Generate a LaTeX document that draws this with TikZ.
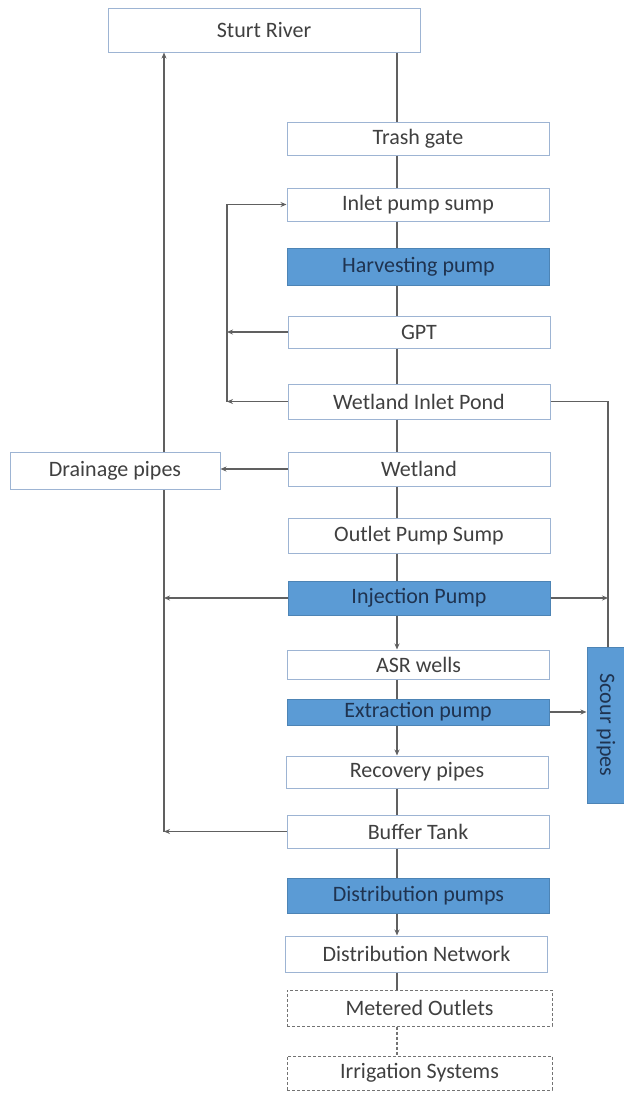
\documentclass[tikz,border=0pt]{standalone}
\usepackage{fontspec}
\setmainfont{Carlito}
\usetikzlibrary{arrows.meta,positioning}
\definecolor{boxline}{HTML}{9DB4D3}
\definecolor{pumpblue}{HTML}{5B9BD5}
\definecolor{pumptext}{HTML}{1F3350}
\definecolor{linkgray}{HTML}{606060}

\begin{document}
\begin{tikzpicture}[x=1pt,y=-1pt]
				\tikzset{stage/.style={draw=boxline,line width=1pt,fill=white,text=black!75,minimum width=262pt,minimum height=34pt,inner sep=0pt,font=\fontsize{22}{26}\selectfont}}
				\tikzset{pump/.style={stage,fill=pumpblue,draw=pumpblue!85!black,text=pumptext}}
				\tikzset{outlet/.style={stage,draw=black!55,densely dashed}}
				\tikzset{link/.style={draw=linkgray,line width=1.1pt}}
				\tikzset{flow/.style={link,-{Stealth[length=6pt,width=5pt]}}}
				\useasboundingbox (0,0) rectangle (624,1093);
				\coordinate (spine) at (397,0);
				\coordinate (loopx) at (227,0);
				\coordinate (leftx) at (164,0);
				\coordinate (rightx) at (608,0);
				\node[stage,minimum width=312pt,minimum height=44pt] (river) at (264,30) {Sturt River};
				\node[stage,minimum height=33pt] (trash) at (418,138.5) {Trash gate};
				\node[stage,minimum height=33pt] (inlet) at (418,204.5) {Inlet pump sump};
				\node[pump,minimum height=37pt] (harvest) at (418.5,266.5) {Harvesting pump};
				\node[stage,minimum height=32pt] (gpt) at (419,332) {GPT};
				\node[stage,minimum height=35pt] (pond) at (419,401.5) {Wetland Inlet Pond};
				\node[stage] (wetland) at (419,469) {Wetland};
				\node[stage,minimum width=210pt,minimum height=37pt] (drain) at (115,470.5) {Drainage pipes};
				\node[stage,minimum height=35pt] (sump) at (419,535.5) {Outlet Pump Sump};
				\node[pump] (inject) at (419,598) {Injection Pump};
				\node[stage,minimum height=29pt] (asr) at (418.5,664.5) {ASR wells};
				\node[pump,minimum height=26pt] (extract) at (418,712) {Extraction pump};
				\node[stage,minimum height=32pt] (recover) at (417,772) {Recovery pipes};
				\node[stage,minimum height=33pt] (buffer) at (418,831.5) {Buffer Tank};
				\node[pump,minimum height=35pt] (distpump) at (418.5,895.5) {Distribution pumps};
				\node[stage,minimum height=36pt] (network) at (416.5,954) {Distribution Network};
				\node[outlet,minimum width=265pt,minimum height=36pt] (meter) at (419.5,1008) {Metered Outlets};
				\node[outlet,minimum width=265pt] (irrig) at (419.5,1073) {Irrigation Systems};
				\node[pump,minimum width=156pt,minimum height=38pt,rotate=-90] (scour) at (606,725) {Scour pipes};
				\foreach \a/\b in {river/trash,trash/inlet,inlet/harvest,harvest/gpt,gpt/pond,pond/wetland,wetland/sump,sump/inject,asr/extract,recover/buffer,buffer/distpump,network/meter}
					\draw[link] (\a.south -| spine) -- (\b.north -| spine);
				\foreach \a/\b in {inject/asr,extract/recover,distpump/network}
					\draw[flow] (\a.south -| spine) -- (\b.north -| spine);
				\draw[link,densely dashed,draw=black!55] (meter.south -| spine) -- (irrig.north -| spine);
				\draw[flow] (gpt.west) -- (gpt.west -| loopx);
				\draw[flow] (pond.west) -- (pond.west -| loopx);
				\draw[flow] (pond.west -| loopx) |- (inlet.west);
				\draw[flow] (wetland.west) -- (drain.east |- wetland.west);
				\draw[flow] (inject.west) -- (inject.west -| leftx);
				\draw[flow] (buffer.west) -- (buffer.west -| leftx);
				\draw[link] (buffer.west -| leftx) -- (drain.south -| leftx);
				\draw[flow] (drain.north -| leftx) -- (river.south -| leftx);
				\draw[link] (pond.east) -| (scour.west -| rightx);
				\draw[flow] (inject.east) -- (inject.east -| rightx);
				\draw[flow] (extract.east) -- (scour.south |- extract.east);
			\end{tikzpicture}
\end{document}
